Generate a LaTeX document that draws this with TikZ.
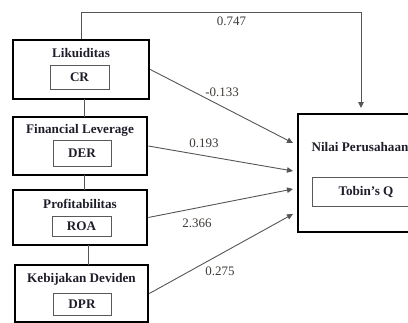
\documentclass[tikz,border=0pt]{standalone}
\usepackage{fontspec}
\setmainfont{Liberation Serif}
\usetikzlibrary{arrows.meta}
\definecolor{txt}{HTML}{1E1E2A}
\definecolor{num}{HTML}{3E3A36}
\definecolor{conn}{HTML}{555555}
\tikzset{
  outerbox/.style={draw=black, line width=2.6bp, inner sep=0pt},
  innerbox/.style={draw=black!65, line width=0.8bp, inner sep=0pt, text=txt, font=\bfseries\fontsize{13.2}{15}\selectfont},
  title/.style={inner sep=0pt, text=txt, font=\bfseries\fontsize{13.2}{15}\selectfont},
  numlabel/.style={inner sep=0pt, text=num, font=\fontsize{13}{15}\selectfont},
  link/.style={draw=conn, line width=0.9bp},
  arrowlink/.style={draw=conn, line width=0.9bp, -{Triangle[length=6bp,width=5.5bp]}}
}
\begin{document}
\begin{tikzpicture}[x=1bp,y=-1bp]
\useasboundingbox (0,0) rectangle (408,323);
% left boxes
\node[outerbox, minimum width=136bp, minimum height=59bp] (lik) at (81,69.5) {};
\node[title] (likt) at (81,53) {Likuiditas};
\node[innerbox, minimum width=59bp, minimum height=24bp] (cr) at (79.5,77) {CR};

\node[outerbox, minimum width=134bp, minimum height=58bp] (fl) at (80,146) {};
\node[title] (flt) at (80,130) {Financial Leverage};
\node[innerbox, minimum width=58bp, minimum height=26bp] (der) at (82,153) {DER};

\node[outerbox, minimum width=134bp, minimum height=55bp] (prof) at (80,217.5) {};
\node[title] (proft) at (80,204) {Profitabilitas};
\node[innerbox, minimum width=59bp, minimum height=20bp] (roa) at (81.5,226) {ROA};

\node[outerbox, minimum width=133bp, minimum height=57bp] (keb) at (81.5,293.5) {};
\node[title] (kebt) at (81.5,279) {Kebijakan Deviden};
\node[innerbox, minimum width=58bp, minimum height=22bp] (dpr) at (82,304) {DPR};

% right box
\node[outerbox, minimum width=126bp, minimum height=118bp] (nil) at (361,173) {};
\node[title] (nilt) at (360,147) {Nilai Perusahaan};
\node[innerbox, minimum width=108bp, minimum height=29bp] (tob) at (366,191.5) {Tobin's Q};

% vertical links between left boxes
\draw[link] (84,99) -- (84,117);
\draw[link] (84,175) -- (84,190);
\draw[link] (88,245) -- (88,265);

% arrow targets
\coordinate (t1) at (293,143);
\coordinate (t2) at (293,171);
\coordinate (t3) at (293,189);
\coordinate (t4) at (293,214);
\coordinate (topl) at (81,12);
\coordinate (topr) at (361,12);
\coordinate (t0) at (361,108);

\draw[arrowlink] (lik.north) -- (topl) -- (topr) -- (t0);
\draw[arrowlink] (lik.east) -- (t1);
\draw[arrowlink] (fl.east) -- (t2);
\draw[arrowlink] (prof.east) -- (t3);
\draw[arrowlink] (keb.east) -- (t4);

% labels
\node[numlabel] (l0) at (231.5,21.5) {0.747};
\node[numlabel] (l1) at (222,92.5) {-0.133};
\node[numlabel] (l2) at (204,143) {0.193};
\node[numlabel] (l3) at (197,223) {2.366};
\node[numlabel] (l4) at (220,271.5) {0.275};
\end{tikzpicture}
\end{document}
